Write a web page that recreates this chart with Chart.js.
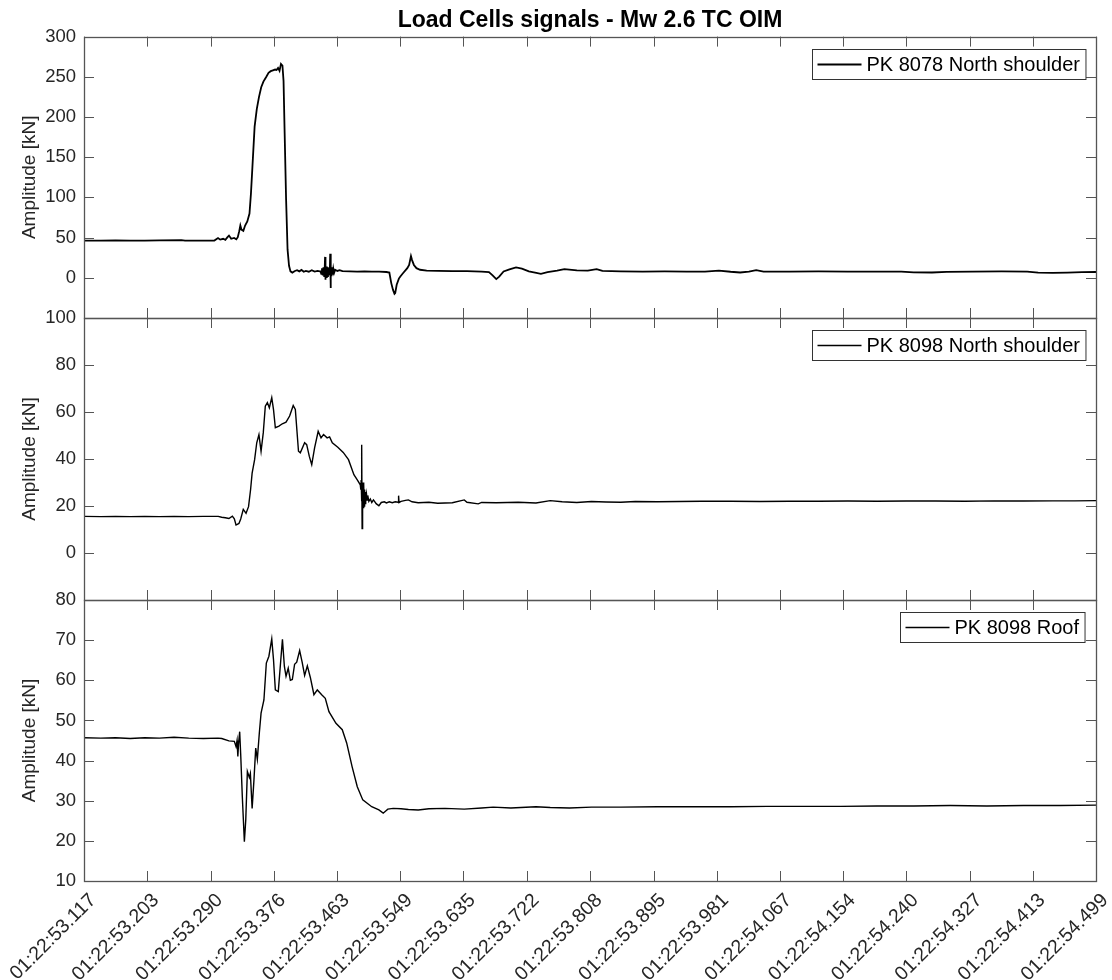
<!DOCTYPE html>
<html><head><meta charset="utf-8">
<script src="https://cdn.jsdelivr.net/npm/chart.js@4/dist/chart.umd.min.js"></script>
<style>
html,body{margin:0;padding:0;background:#fff;}
#wrap{position:relative;width:1112px;height:980px;overflow:hidden;background:#fff;}
#wrap canvas{position:absolute;left:0;top:0;}
</style></head><body>
<div id="wrap">
<canvas id="c1" width="1112" height="980"></canvas>
<canvas id="c2" width="1112" height="980"></canvas>
<canvas id="c3" width="1112" height="980"></canvas>
</div>
<script>
// ---------------- DATA ----------------
const chartTitle = 'Load Cells signals - Mw 2.6 TC OIM';
const yAxisTitle = 'Amplitude [kN]';
const seriesLabels = ['PK 8078 North shoulder', 'PK 8098 North shoulder', 'PK 8098 Roof'];
const xTickLabels = ['01:22:53.117','01:22:53.203','01:22:53.290','01:22:53.376','01:22:53.463','01:22:53.549',
  '01:22:53.635','01:22:53.722','01:22:53.808','01:22:53.895','01:22:53.981','01:22:54.067','01:22:54.154',
  '01:22:54.240','01:22:54.327','01:22:54.413','01:22:54.499'];
const yTicks8078N = [0, 50, 100, 150, 200, 250, 300];
const yTicks8098N = [0, 20, 40, 60, 80, 100];
const yTicks8098R = [10, 20, 30, 40, 50, 60, 70, 80];
const yRange8078N = [-50, 300];
const yRange8098N = [-20, 100];
const yRange8098R = [10, 80];

// times in seconds of minute 01:22
const t8078N = [53.117,53.140,53.160,53.180,53.200,53.220,53.250,53.255,53.270,53.285,53.295,53.300,53.303,53.307,53.310,53.313,53.315,53.318,53.322,53.325,53.327,53.329,53.3305,53.332,53.3346,53.337,53.340,53.343,53.345,53.347,53.350,53.353,53.356,53.359,53.362,53.366,53.369,53.372,53.375,53.378,53.380,53.382,53.384,53.386,53.388,53.3895,53.391,53.393,53.395,53.397,53.399,53.4015,53.405,53.408,53.411,53.414,53.417,53.420,53.424,53.428,53.432,53.436,53.439,
  53.4400,53.4410,53.4420,53.4430,53.4440,53.4450,53.4458,53.4462,53.4466,53.4470,53.4478,53.4486,53.4494,53.4502,53.4510,53.4518,53.4526,53.4532,53.4537,53.4542,53.4550,53.4558,53.4566,53.4575,53.4585,53.460,53.463,53.466,53.470,53.480,53.490,53.500,53.510,53.520,53.530,53.534,53.5366,53.539,53.541,53.542,53.544,53.547,53.549,53.552,53.5585,53.561,53.5635,53.565,53.5675,53.571,53.576,53.585,53.600,53.620,53.640,53.660,53.670,53.675,53.680,53.684,53.690,53.698,53.707,53.715,53.7245,53.733,53.741,53.750,53.763,
  53.773,53.790,53.805,53.817,53.825,53.850,53.880,53.910,53.940,53.965,53.984,54.000,54.013,54.025,54.035,54.045,54.080,54.120,54.160,54.200,54.233,54.250,54.275,54.295,54.330,54.370,54.405,54.420,54.440,54.460,54.480,54.499];
const v8078N = [46.3,46.2,46.4,46.3,46.3,46.5,46.8,46.3,46.3,46.3,46.3,49.5,47.5,48.5,47.2,50.5,52.5,48.5,49.5,48.0,50.5,58,65,60,58.5,65,70,80,105,138,188,210,225,237,244,250,255,257,258,259,258.5,261,257.5,266,264,245,180,97,35,15,8,6.5,8.5,9.5,8,9.8,7.5,8.5,7.6,9.5,7.8,8.6,8.0,
  8,5,12,3,13,2,14,26,-2.5,15,1,14,2,13,3,12,4,29.8,-12.8,14,2,13,4,11,6,10,8.5,9.5,8.2,8.0,7.8,8.0,7.6,7.8,7.2,6.5,-6.6,-15,-20,-19,-8.7,-1,1.6,5,12,16,27,22,16,12,10,9,8.7,8.3,8.2,7.8,7.2,3,-1.6,1.5,7.8,10.5,13,11.5,8,6.5,5,7,9,
  10.8,9.2,9.0,10.8,8.5,8.0,7.6,7.9,7.7,7.8,9.0,7.5,6.6,7.8,9.5,7.8,7.8,7.9,7.7,7.8,7.8,6.8,6.6,7.4,7.8,7.9,7.7,6.4,6.2,6.5,7.0,7.2];

const t8098N = [53.117,53.140,53.160,53.180,53.200,53.220,53.240,53.260,53.280,53.3003,53.305,53.310,53.3149,53.3196,53.3223,53.3246,53.3286,53.3310,53.3345,53.3383,53.3417,53.3445,53.3466,53.3500,53.3529,53.3559,53.3588,53.3618,53.3646,53.3674,53.3701,53.3734,53.3758,53.3783,53.3832,53.3878,53.3929,53.3978,53.4027,53.4056,53.4099,53.4124,53.4183,53.4211,53.4247,53.4280,53.4319,53.4368,53.4407,53.4441,53.4490,53.4524,53.4561,53.4636,53.4710,53.4782,53.4856,53.4902,53.4943,
  53.4950,53.4955,53.4960,53.4964,53.4968,53.4972,53.4977,53.4982,53.4987,53.4992,53.4997,53.5002,53.5008,53.5014,53.5020,53.5028,53.5036,53.5045,53.5060,53.5080,53.5100,53.5123,53.5160,53.5197,53.5230,53.5271,53.5300,53.5339,53.5380,53.5420,53.5460,53.5466,53.5472,53.5500,53.5560,53.5600,53.5650,53.5734,53.5880,53.6000,53.6200,53.6363,53.6400,53.6554,53.6600,53.6800,53.7100,53.7342,53.7537,
  53.770,53.790,53.810,53.830,53.850,53.870,53.900,53.930,53.960,54.000,54.040,54.080,54.120,54.160,54.200,54.240,54.280,54.320,54.360,54.400,54.440,54.470,54.499];
const v8098N = [15.6,15.5,15.6,15.5,15.6,15.5,15.6,15.5,15.6,15.6,15.2,15.0,14.7,15.7,14.5,11.9,12.6,14.5,18.6,16.9,19.7,27,34,39.7,46.9,50.4,43.3,51.1,62.5,64,61.8,66.1,61,53.3,54,55,55.7,58.3,62.8,61.1,43.3,42.6,46.9,46.1,41.1,37.6,44.7,51.8,49,50.4,49,49.4,46.9,45,42.8,39.7,33.3,31.1,29,
  27,31,22,46.1,10.4,30,18,30,19,29,20,27,21,26,22,25,22.5,24.5,22,23,21.5,22.6,21,20.1,21.5,21.8,21.3,21.8,21.4,21.8,21.6,24.4,21.5,22.0,22.4,22.6,21.8,21.4,21.6,21.2,21.4,22.6,21.6,20.9,21.5,21.4,21.6,21.3,22.3,
  21.8,21.5,21.9,21.7,21.6,21.9,21.8,21.9,22.0,22.0,21.9,22.0,22.0,22.1,22.0,22.1,22.1,22.0,22.2,22.1,22.2,22.2,22.3];

const t8098R = [53.117,53.140,53.160,53.180,53.200,53.220,53.240,53.260,53.280,53.300,53.3051,53.3149,53.3223,53.3246,53.3260,53.3271,53.3280,53.3296,53.3310,53.3332,53.3360,53.3379,53.3401,53.3428,53.3442,53.3466,53.3491,53.3515,53.3537,53.3564,53.3588,53.3627,53.3660,53.3695,53.3734,53.3758,53.3783,53.3823,53.3857,53.3880,53.3906,53.3929,53.3959,53.3988,53.4015,53.4046,53.4075,53.4115,53.4149,53.4183,53.4220,53.4261,53.4310,53.4356,53.4416,53.4465,53.4515,53.4611,53.4697,53.4757,53.4831,53.4902,53.4977,53.5099,53.5197,53.5256,53.5319,53.5392,53.5500,53.5600,53.5734,53.5880,53.6100,53.6363,53.6600,53.6757,53.7000,53.7342,53.7537,
  53.780,53.810,53.850,53.900,53.950,54.000,54.050,54.100,54.150,54.200,54.250,54.300,54.350,54.400,54.450,54.499];
const v8098R = [45.7,45.6,45.7,45.5,45.7,45.6,45.8,45.6,45.5,45.6,45.5,44.9,44.8,43.5,45,41,44,47.2,41.5,31,19.8,25.2,37.3,35.8,36.8,28.1,35.2,43.1,40.3,46.8,51.8,55.1,64.3,66,70.3,65.1,57.6,57.2,65,70.2,63.5,61,63,60,60.2,64,64.5,67.4,64.5,61.2,63.6,60.7,56.4,57.6,56.4,55.5,52.2,49.3,47.7,44.4,38.5,33.5,30.2,28.5,27.7,26.9,27.9,28.1,28.0,27.8,27.7,28.0,28.1,27.9,28.2,28.4,28.2,28.5,28.3,
  28.2,28.4,28.4,28.5,28.5,28.5,28.6,28.6,28.6,28.7,28.7,28.8,28.7,28.8,28.8,28.9];

// ---------------- RENDERING ----------------
const FONT = "'Liberation Sans', Arial, Helvetica, sans-serif";
const TEXT = '#262626';
const AXIS = '#555555';
const TICKLEN = 10;
const xTickValues = xTickLabels.map(l => parseFloat(l.split(':')[2]));
const xMin = xTickValues[0], xMax = xTickValues[xTickValues.length - 1];
const zip = (t, v) => t.map((x, i) => ({x: x, y: v[i]}));

const framePlugin = {
  id: 'frame',
  afterDatasetsDraw(chart, args, opts) {
    const {ctx, chartArea: a} = chart;
    const x = chart.scales.x, y = chart.scales.y;
    ctx.save();
    ctx.strokeStyle = AXIS;
    ctx.lineWidth = 1;
    ctx.beginPath();
    xTickValues.forEach(v => {
      const px = Math.round(x.getPixelForValue(v)) + 0.5;
      ctx.moveTo(px, a.top); ctx.lineTo(px, a.top + TICKLEN);
      ctx.moveTo(px, a.bottom); ctx.lineTo(px, a.bottom - TICKLEN);
    });
    opts.yTicks.forEach(v => {
      const py = Math.round(y.getPixelForValue(v)) + 0.5;
      ctx.moveTo(a.left, py); ctx.lineTo(a.left + TICKLEN, py);
      ctx.moveTo(a.right, py); ctx.lineTo(a.right - TICKLEN, py);
    });
    ctx.stroke();
    ctx.lineWidth = 1.3;
    ctx.strokeRect(Math.round(a.left) + 0.5, Math.round(a.top) + 0.5, Math.round(a.right - a.left), Math.round(a.bottom - a.top));
    // legend box
    const ds = chart.data.datasets[0];
    ctx.font = '20px ' + FONT;
    const tw = ctx.measureText(ds.label).width;
    const padL = 5, lineLen = 44, gap = 5, padR = 6, boxH = 30;
    const boxW = padL + lineLen + gap + tw + padR;
    const bx = Math.round(a.right - 11 - boxW) + 0.5;
    const by = Math.round(a.top + 12) + 0.5;
    ctx.fillStyle = '#fff';
    ctx.fillRect(bx, by, boxW, boxH);
    ctx.strokeStyle = '#333';
    ctx.lineWidth = 1;
    ctx.strokeRect(bx, by, boxW, boxH);
    ctx.beginPath();
    ctx.strokeStyle = '#000';
    ctx.lineWidth = ds.borderWidth;
    ctx.moveTo(bx + padL, by + boxH / 2);
    ctx.lineTo(bx + padL + lineLen, by + boxH / 2);
    ctx.stroke();
    ctx.fillStyle = '#000';
    ctx.textBaseline = 'middle';
    ctx.textAlign = 'left';
    ctx.fillText(ds.label, bx + padL + lineLen + gap, by + boxH / 2 + 1);
    ctx.restore();
  }
};

function makeChart(id, label, t, v, yRange, yTicks, lw, padTop, padBottom, isBottom, withTitle) {
  const xScale = {
    type: 'linear', min: xMin, max: xMax,
    afterBuildTicks: s => { s.ticks = xTickValues.map(val => ({value: val})); },
    afterFit: s => { s.height = isBottom ? 99 : 0; s.paddingLeft = 0; s.paddingRight = 0; },
    grid: {display: false, drawTicks: false},
    border: {display: false},
    ticks: {
      display: isBottom, autoSkip: false, minRotation: 45, maxRotation: 45, padding: 8, labelOffset: 9,
      color: TEXT, font: {size: 19.5, family: FONT},
      callback: (val, i) => xTickLabels[i]
    }
  };
  return new Chart(document.getElementById(id), {
    type: 'line',
    data: {datasets: [{
      label: label, data: zip(t, v),
      borderColor: '#000', borderWidth: lw, pointRadius: 0, tension: 0, fill: false
    }]},
    options: {
      responsive: false, animation: false, devicePixelRatio: 1, events: [],
      layout: {padding: {left: 0, right: 16, top: padTop, bottom: padBottom}},
      scales: {
        x: xScale,
        y: {
          type: 'linear', min: yRange[0], max: yRange[1],
          afterBuildTicks: s => { s.ticks = yTicks.map(val => ({value: val})); },
          afterFit: s => { s.width = 84; },
          grid: {display: false, drawTicks: false},
          border: {display: false},
          ticks: {color: TEXT, font: {size: 18.5, family: FONT}, padding: 8},
          title: {display: true, text: yAxisTitle, color: TEXT, font: {size: 19, family: FONT}, padding: {top: 18, bottom: 0}}
        }
      },
      plugins: {
        legend: {display: false},
        tooltip: {enabled: false},
        title: {display: withTitle, text: chartTitle, fullSize: false, color: '#000',
          font: {size: 23, weight: 'bold', family: FONT}, padding: {top: 7, bottom: 2}},
        frame: {yTicks: yTicks}
      }
    },
    plugins: [framePlugin]
  });
}

makeChart('c1', seriesLabels[0], t8078N, v8078N, yRange8078N, yTicks8078N, 1.8, 0, 662, false, true);
makeChart('c2', seriesLabels[1], t8098N, v8098N, yRange8098N, yTicks8098N, 1.4, 318, 380, false, false);
makeChart('c3', seriesLabels[2], t8098R, v8098R, yRange8098R, yTicks8098R, 1.4, 600, 0, true, false);
</script>
</body></html>
